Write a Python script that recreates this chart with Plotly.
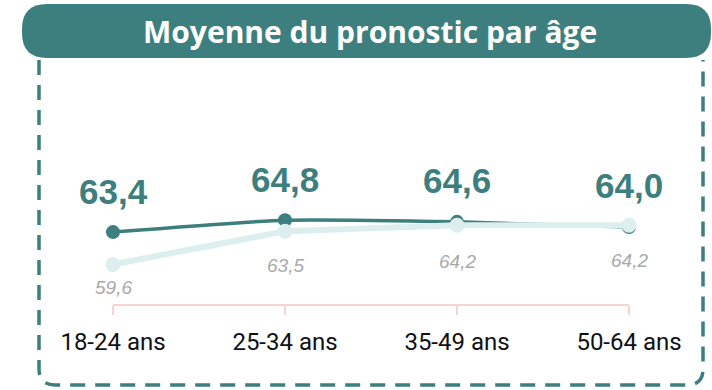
import plotly.graph_objects as go

# Age groups and average forecast values
categories = ["18-24 ans", "25-34 ans", "35-49 ans", "50-64 ans"]
main_values = [63.4, 64.8, 64.6, 64.0]
reference_values = [59.6, 63.5, 64.2, 64.2]

TEAL = "#3d7f7e"
LIGHT = "#dceeed"
PINK = "#f8d3d3"
GREY = "#a9a9a9"

W, H = 712, 390
ML, MR, MT, MB = 113, 83, 80, 86
PW, PH = W - ML - MR, H - MT - MB


def px(x):
    return (x - ML) / PW


def py(y):
    return (H - MB - y) / PH


fig = go.Figure()

fig.add_trace(go.Scatter(
    x=categories, y=main_values, mode="lines+markers",
    line=dict(color=TEAL, width=3.5, shape="spline", smoothing=0.5),
    marker=dict(color=TEAL, size=14),
    cliponaxis=False, hoverinfo="skip", showlegend=False,
))
fig.add_trace(go.Scatter(
    x=categories, y=reference_values, mode="lines+markers",
    line=dict(color=LIGHT, width=6),
    marker=dict(color=LIGHT, size=15),
    cliponaxis=False, hoverinfo="skip", showlegend=False,
))

annotations = []
for c, v in zip(categories, main_values):
    annotations.append(dict(
        x=c, y=v, xref="x", yref="y", text=f"{v:.1f}".replace(".", ","),
        showarrow=False, yanchor="middle", yshift=41,
        font=dict(family="Liberation Sans", size=35, color=TEAL, weight="bold"),
    ))
ref_offsets = [-23, -34, -36, -35]
for c, v, off in zip(categories, reference_values, ref_offsets):
    annotations.append(dict(
        x=c, y=v, xref="x", yref="y",
        text=f"<i>{v:.1f}</i>".replace(".", ","),
        showarrow=False, yanchor="middle", yshift=off,
        font=dict(family="Liberation Sans", size=19, color=GREY),
    ))

# Banner title
annotations.append(dict(
    x=px(370), y=py(31), xref="paper", yref="paper",
    text="Moyenne du pronostic par âge", showarrow=False,
    xanchor="center", yanchor="middle",
    font=dict(family="Open Sans", size=30, color="white", weight="bold"),
))

# Dashed frame (left, bottom, right with rounded bottom corners)
fx0, fx1, fy0, fy1, fr = 39, 703, 60, 385, 16
frame = (
    f"M {px(fx0)},{py(fy0)} L {px(fx0)},{py(fy1 - fr)} "
    f"Q {px(fx0)},{py(fy1)} {px(fx0 + fr)},{py(fy1)} "
    f"L {px(fx1 - fr)},{py(fy1)} "
    f"Q {px(fx1)},{py(fy1)} {px(fx1)},{py(fy1 - fr)} "
    f"L {px(fx1)},{py(fy0)}"
)
bx0, bx1, by0, by1, br = 22, 711, 4, 58, 25
banner = (
    f"M {px(bx0 + br)},{py(by0)} L {px(bx1 - br)},{py(by0)} "
    f"Q {px(bx1)},{py(by0)} {px(bx1)},{py(by0 + br)} "
    f"L {px(bx1)},{py(by1 - br)} "
    f"Q {px(bx1)},{py(by1)} {px(bx1 - br)},{py(by1)} "
    f"L {px(bx0 + br)},{py(by1)} "
    f"Q {px(bx0)},{py(by1)} {px(bx0)},{py(by1 - br)} "
    f"L {px(bx0)},{py(by0 + br)} "
    f"Q {px(bx0)},{py(by0)} {px(bx0 + br)},{py(by0)} Z"
)
shapes = [
    dict(type="path", path=frame, xref="paper", yref="paper",
         line=dict(color=TEAL, width=3.5, dash="15px,10px"), layer="below"),
    dict(type="path", path=banner, xref="paper", yref="paper",
         fillcolor=TEAL, line=dict(width=0), layer="below"),
]

fig.update_layout(
    width=W, height=H,
    margin=dict(l=ML, r=MR, t=MT, b=MB),
    paper_bgcolor="white", plot_bgcolor="white",
    xaxis=dict(
        type="category", range=[0, 3], showgrid=False, zeroline=False,
        showline=True, linecolor=PINK, linewidth=2,
        ticks="outside", ticklen=9, tickcolor=PINK, tickwidth=2,
        ticklabelstandoff=6,
        tickfont=dict(family="Roboto", size=24, color="#111111"),
        fixedrange=True,
    ),
    yaxis=dict(range=[54.95, 81.27], visible=False, fixedrange=True),
    annotations=annotations, shapes=shapes,
)

fig.write_html("out.html")
